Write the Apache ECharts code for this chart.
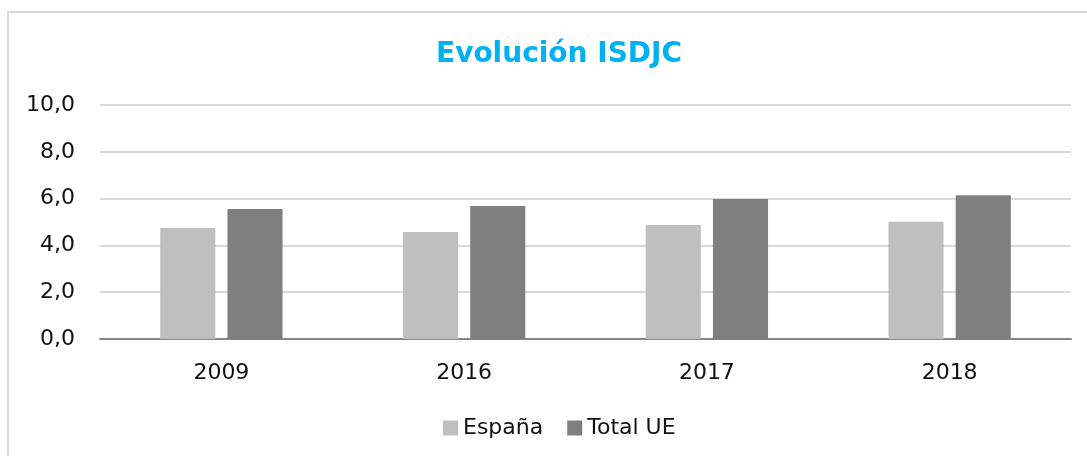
<!DOCTYPE html>
<html>
<head>
<meta charset="utf-8">
<script src="https://cdn.jsdelivr.net/npm/echarts@6/dist/echarts.min.js"></script>
<style>
  html, body { margin: 0; padding: 0; background: #fff; }
  #chart { width: 1087px; height: 456px; }
</style>
</head>
<body>
<div id="chart"></div>
<script>
// datos
const years = ['2009', '2016', '2017', '2018']
const espana = [4.74, 4.57, 4.87, 5.01]
const totalUE = [5.56, 5.68, 5.98, 6.14]
const seriesNames = ['España', 'Total UE']

const chart = echarts.init(document.getElementById('chart'))

const font = '"DejaVu Sans", sans-serif'

const option = {
  backgroundColor: '#fff',
  textStyle: { fontFamily: font },
  title: {
    text: 'Evolución ISDJC',
    left: 431,
    top: 36,
    textStyle: {
      color: '#00b0f0',
      fontSize: 28,
      fontWeight: 'bold',
      fontFamily: font
    }
  },
  graphic: [
    {
      type: 'rect',
      shape: { x: 8, y: 12, width: 1200, height: 600 },
      style: { fill: 'none', stroke: '#d9d9d9', lineWidth: 2 },
      silent: true,
      z: -1
    }
  ],
  legend: {
    data: seriesNames,
    left: 438,
    top: 412,
    icon: 'rect',
    itemWidth: 15,
    itemHeight: 15,
    itemGap: 24,
    itemStyle: { borderWidth: 0 },
    textStyle: { color: '#111', fontSize: 22, fontFamily: font }
  },
  grid: {
    left: 100,
    right: 16,
    top: 105,
    bottom: 117
  },
  xAxis: {
    type: 'category',
    data: years,
    axisLine: { lineStyle: { color: '#868686', width: 2 } },
    axisTick: { show: false },
    axisLabel: { color: '#111', fontSize: 22, margin: 23 }
  },
  yAxis: {
    type: 'value',
    min: 0,
    max: 10,
    interval: 2,
    axisLine: { show: false },
    axisTick: { show: false },
    splitLine: { lineStyle: { color: '#d9d9d9', width: 2 } },
    axisLabel: {
      color: '#111',
      fontSize: 22,
      margin: 25,
      formatter: v => v.toFixed(1).replace('.', ',')
    }
  },
  series: [
    {
      name: seriesNames[0],
      type: 'bar',
      data: espana,
      barWidth: '22.7%',
      barGap: '22%',
      itemStyle: { color: '#bfbfbf' }
    },
    {
      name: seriesNames[1],
      type: 'bar',
      data: totalUE,
      barWidth: '22.7%',
      itemStyle: { color: '#7f7f7f' }
    }
  ]
}

chart.setOption(option)
</script>
</body>
</html>
